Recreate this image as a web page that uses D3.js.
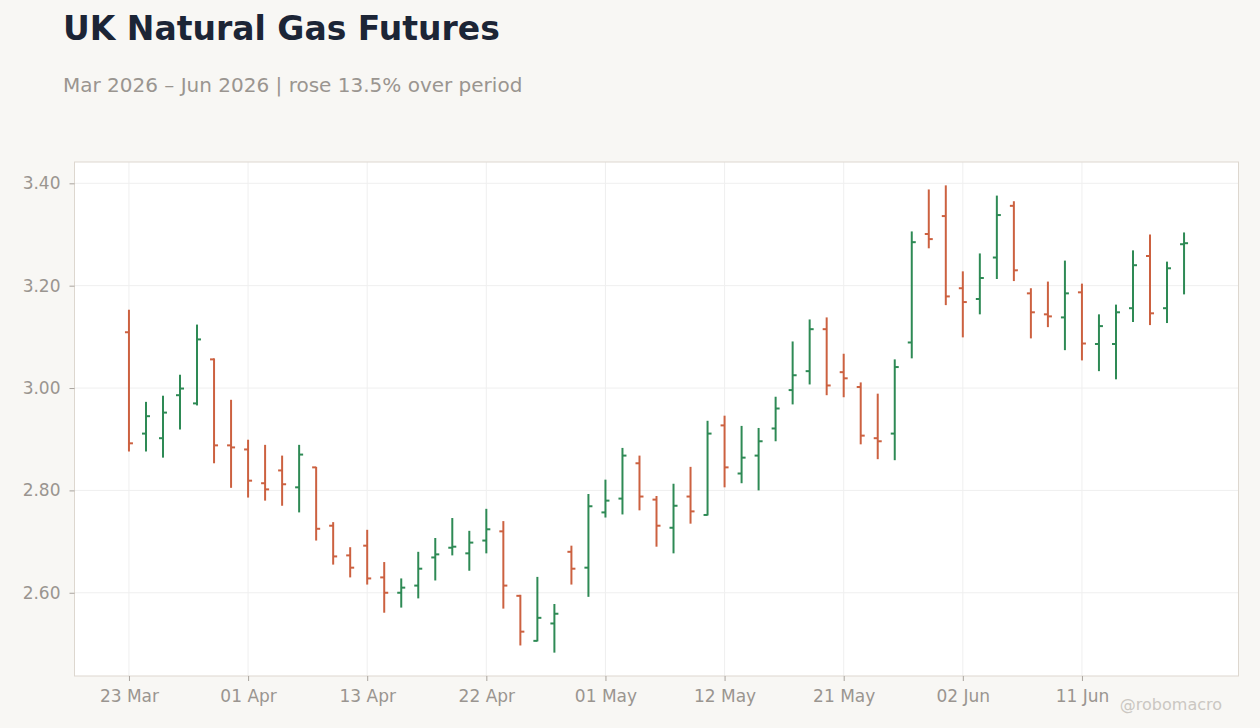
<!DOCTYPE html>
<html>
<head>
<meta charset="utf-8">
<script src="https://cdn.jsdelivr.net/npm/d3@7"></script>
<style>
  body { margin: 0; background: #f8f7f4; font-family: "DejaVu Sans", sans-serif; }
  .axis text { fill: #9a9590; font-size: 17px; font-family: "DejaVu Sans", sans-serif; }
  .axis line { stroke: #a9a49e; }
  .axis path { display: none; }
</style>
</head>
<body>
<div id="chart"></div>
<script>
// trading days
const dates = [
  "2026-03-23","2026-03-24","2026-03-25","2026-03-26","2026-03-27","2026-03-30","2026-03-31",
  "2026-04-01","2026-04-02","2026-04-06","2026-04-07","2026-04-08","2026-04-09","2026-04-10",
  "2026-04-13","2026-04-14","2026-04-15","2026-04-16","2026-04-17","2026-04-20","2026-04-21",
  "2026-04-22","2026-04-23","2026-04-24","2026-04-27","2026-04-28","2026-04-29","2026-04-30",
  "2026-05-01","2026-05-04","2026-05-05","2026-05-06","2026-05-07","2026-05-08","2026-05-11",
  "2026-05-12","2026-05-13","2026-05-14","2026-05-15","2026-05-18","2026-05-19","2026-05-20",
  "2026-05-21","2026-05-22","2026-05-26","2026-05-27","2026-05-28","2026-05-29","2026-06-01",
  "2026-06-02","2026-06-03","2026-06-04","2026-06-05","2026-06-08","2026-06-09","2026-06-10",
  "2026-06-11","2026-06-12","2026-06-15","2026-06-16","2026-06-17","2026-06-18","2026-06-19"
];

const opens = [
  3.109, 2.911, 2.902, 2.986, 2.970, 3.056, 2.888, 2.880, 2.814, 2.839,
  2.806, 2.845, 2.731, 2.673, 2.692, 2.630, 2.600, 2.614, 2.669, 2.688,
  2.677, 2.702, 2.720, 2.594, 2.506, 2.540, 2.680, 2.649, 2.757, 2.784,
  2.853, 2.782, 2.727, 2.788, 2.752, 2.927, 2.833, 2.868, 2.921, 2.996,
  3.033, 3.115, 3.031, 3.002, 2.902, 2.911, 3.089, 3.301, 3.336, 3.195,
  3.174, 3.255, 3.356, 3.185, 3.144, 3.138, 3.187, 3.086, 3.086, 3.156,
  3.258, 3.156, 3.281
];
const highs = [
  3.153, 2.973, 2.985, 3.026, 3.124, 3.058, 2.977, 2.899, 2.889, 2.868,
  2.889, 2.846, 2.738, 2.689, 2.723, 2.660, 2.628, 2.680, 2.707, 2.746,
  2.721, 2.764, 2.740, 2.596, 2.631, 2.578, 2.692, 2.793, 2.821, 2.883,
  2.868, 2.789, 2.813, 2.846, 2.936, 2.946, 2.926, 2.922, 2.983, 3.091,
  3.134, 3.138, 3.067, 3.011, 2.989, 3.056, 3.306, 3.388, 3.396, 3.228,
  3.263, 3.376, 3.365, 3.195, 3.208, 3.249, 3.204, 3.144, 3.163, 3.269,
  3.300, 3.247, 3.304
];
const lows = [
  2.876, 2.876, 2.864, 2.919, 2.966, 2.853, 2.805, 2.786, 2.780, 2.770,
  2.757, 2.702, 2.655, 2.630, 2.616, 2.561, 2.571, 2.589, 2.624, 2.673,
  2.643, 2.677, 2.569, 2.497, 2.505, 2.483, 2.616, 2.592, 2.747, 2.753,
  2.761, 2.690, 2.677, 2.735, 2.751, 2.806, 2.814, 2.800, 2.896, 2.968,
  3.007, 2.986, 2.982, 2.890, 2.861, 2.859, 3.058, 3.273, 3.162, 3.099,
  3.144, 3.213, 3.209, 3.097, 3.119, 3.074, 3.054, 3.033, 3.017, 3.129,
  3.123, 3.127, 3.183
];
const closes = [
  2.892, 2.945, 2.952, 2.999, 3.095, 2.888, 2.884, 2.819, 2.802, 2.812,
  2.870, 2.725, 2.671, 2.649, 2.628, 2.600, 2.610, 2.647, 2.675, 2.690,
  2.698, 2.724, 2.614, 2.524, 2.551, 2.559, 2.647, 2.769, 2.780, 2.868,
  2.788, 2.731, 2.770, 2.759, 2.911, 2.845, 2.864, 2.896, 2.960, 3.025,
  3.115, 3.005, 3.019, 2.907, 2.896, 3.041, 3.285, 3.291, 3.179, 3.168,
  3.215, 3.338, 3.230, 3.148, 3.140, 3.185, 3.087, 3.121, 3.148, 3.240,
  3.146, 3.234, 3.283
];

const title = "UK Natural Gas Futures";
const handle = "@robomacro";

const width = 1260, height = 728;
const margin = { top: 162, right: 21.5, bottom: 52, left: 74.5 };
const upColor = "#2e8a55", downColor = "#cc6140";

const bars = dates.map((d, i) => ({
  date: d, open: opens[i], high: highs[i], low: lows[i], close: closes[i]
}));

const parse = d3.timeParse("%Y-%m-%d");
const fmt = d3.timeFormat("%d %b");

const svg = d3.select("#chart").append("svg")
  .attr("width", width)
  .attr("height", height);

const x = d3.scalePoint()
  .domain(dates)
  .range([margin.left, width - margin.right])
  .padding(3.2);

const lo = d3.min(lows), hi = d3.max(highs);
const pad = (hi - lo) * 0.05;
const y = d3.scaleLinear()
  .domain([lo - pad, hi + pad])
  .range([height - margin.bottom, margin.top]);

// plot background
svg.append("rect")
  .attr("x", margin.left)
  .attr("y", margin.top)
  .attr("width", width - margin.left - margin.right)
  .attr("height", height - margin.top - margin.bottom)
  .attr("fill", "#ffffff");

const xTicks = dates.filter((d, i) => i % 7 === 0);
const yTicks = y.ticks(5);

// grid
svg.append("g").selectAll("line.hg")
  .data(yTicks).join("line")
  .attr("x1", margin.left).attr("x2", width - margin.right)
  .attr("y1", d => y(d)).attr("y2", d => y(d))
  .attr("stroke", "#efefef");

svg.append("g").selectAll("line.vg")
  .data(xTicks).join("line")
  .attr("x1", d => x(d)).attr("x2", d => x(d))
  .attr("y1", margin.top).attr("y2", height - margin.bottom)
  .attr("stroke", "#efefef");

// frame
svg.append("rect")
  .attr("x", margin.left)
  .attr("y", margin.top)
  .attr("width", width - margin.left - margin.right)
  .attr("height", height - margin.top - margin.bottom)
  .attr("fill", "none")
  .attr("stroke", "#ddd7cf");

// axes
svg.append("g")
  .attr("class", "axis")
  .attr("transform", `translate(${margin.left},0)`)
  .call(d3.axisLeft(y).tickValues(yTicks).tickFormat(d3.format(".2f")).tickSize(5).tickPadding(9));

svg.append("g")
  .attr("class", "axis")
  .attr("transform", `translate(0,${height - margin.bottom})`)
  .call(d3.axisBottom(x).tickValues(xTicks).tickFormat(d => fmt(parse(d))).tickSize(5).tickPadding(9));

// OHLC bars
const g = svg.append("g").selectAll("g")
  .data(bars).join("g")
  .attr("stroke", d => d.close >= d.open ? upColor : downColor)
  .attr("stroke-width", 2);

g.append("line")
  .attr("x1", d => x(d.date)).attr("x2", d => x(d.date))
  .attr("y1", d => y(d.high)).attr("y2", d => y(d.low));

g.append("line")
  .attr("x1", d => x(d.date) - 4).attr("x2", d => x(d.date))
  .attr("y1", d => y(d.open)).attr("y2", d => y(d.open));

g.append("line")
  .attr("x1", d => x(d.date)).attr("x2", d => x(d.date) + 4)
  .attr("y1", d => y(d.close)).attr("y2", d => y(d.close));

// titles
const change = (closes[closes.length - 1] / closes[0] - 1) * 100;
const subtitle = `Mar 2026 – Jun 2026 | ${change >= 0 ? "rose" : "fell"} ${Math.abs(change).toFixed(1)}% over period`;

svg.append("text")
  .attr("x", 63).attr("y", 40)
  .attr("fill", "#1c2536")
  .attr("font-size", 33)
  .attr("font-weight", "bold")
  .text(title);

svg.append("text")
  .attr("x", 63).attr("y", 92)
  .attr("fill", "#9a9590")
  .attr("font-size", 20)
  .text(subtitle);

svg.append("text")
  .attr("x", 1222).attr("y", 710)
  .attr("text-anchor", "end")
  .attr("fill", "#cbc7c2")
  .attr("font-size", 16)
  .text(handle);
</script>
</body>
</html>
